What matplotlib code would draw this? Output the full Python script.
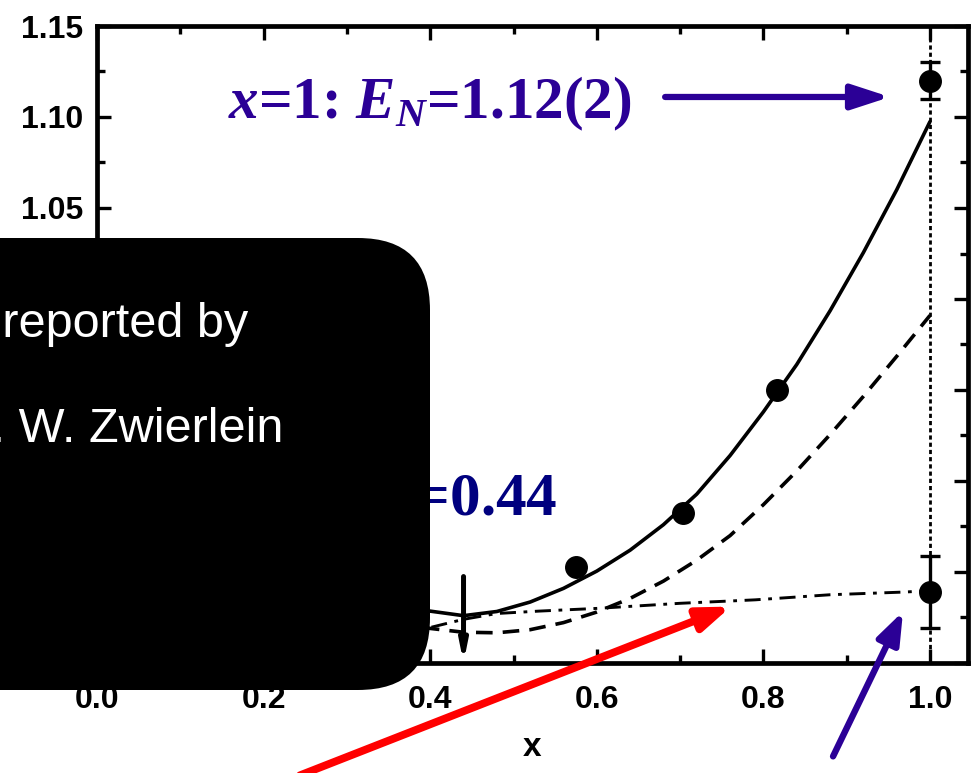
import matplotlib
matplotlib.use("Agg")
import matplotlib.pyplot as plt
from matplotlib.patches import FancyBboxPatch
from matplotlib.ticker import MultipleLocator, FormatStrFormatter

# Measured energies along the curve
x_meas = [0.575, 0.703, 0.816]
E_meas = [0.853, 0.8825, 0.950]

# End points at x = 1 with their error bars
x_end = [1.0, 1.0]
E_end = [1.12, 0.839]
E_end_err = [0.01, 0.02]

# Theory curves
x_solid = [0.36, 0.40, 0.44, 0.48, 0.52, 0.56, 0.60, 0.64, 0.68, 0.72, 0.76, 0.80, 0.84, 0.88, 0.92, 0.96, 1.00]
E_solid = [0.8315, 0.8285, 0.826, 0.8283, 0.8335, 0.841, 0.8505, 0.862, 0.876, 0.8928, 0.914, 0.938,
           0.964, 0.9935, 1.0255, 1.060, 1.0975]

x_dashed = [0.36, 0.40, 0.44, 0.48, 0.52, 0.56, 0.60, 0.64, 0.68, 0.72, 0.76, 0.80, 0.84, 0.88, 0.92, 0.96, 1.00]
E_dashed = [0.8231, 0.819, 0.8169, 0.8166, 0.8183, 0.8222, 0.828, 0.8355, 0.845, 0.8565, 0.870, 0.887,
            0.9055, 0.9255, 0.9465, 0.9685, 0.991]

x_dashdot = [0.36, 0.40, 0.44, 0.48, 0.53, 0.60, 0.70, 0.79, 0.88, 0.97, 0.99]
E_dashdot = [0.8165, 0.8195, 0.824, 0.8272, 0.8285, 0.830, 0.8328, 0.8347, 0.8375, 0.839, 0.8395]

x_crit = 0.44

xticks = [0.0, 0.2, 0.4, 0.6, 0.8, 1.0]
yticks = [0.80, 0.85, 0.90, 0.95, 1.00, 1.05, 1.10, 1.15]

PURPLE = "#2b0096"
NAVY = "#00007f"
RED = "#ff0000"

plt.rcParams["font.family"] = ["Liberation Sans", "DejaVu Sans"]
plt.rcParams["font.weight"] = "bold"
plt.rcParams["mathtext.fontset"] = "custom"
plt.rcParams["mathtext.rm"] = "Liberation Serif:bold"
plt.rcParams["mathtext.it"] = "Liberation Serif:italic:bold"
plt.rcParams["mathtext.bf"] = "Liberation Serif:bold"

W, H = 976, 773
fig = plt.figure(figsize=(W / 100, H / 100), dpi=100)
fig.patch.set_facecolor("white")
ax = fig.add_axes([97 / W, 110 / H, 871 / W, 637 / H])

ax.set_xlim(0.0, 1.0456)
ax.set_ylim(0.80, 1.15)

# curves
ax.plot(x_solid, E_solid, color="black", lw=2.6, solid_joinstyle="round",
        solid_capstyle="round", zorder=3)
ax.plot(x_dashed, E_dashed, color="black", lw=2.6, linestyle=(0, (4.6, 2.8)),
        dash_joinstyle="round", zorder=3)
ax.plot(x_dashdot, E_dashdot, color="black", lw=2.1, linestyle=(0, (5.5, 2.6, 1.3, 2.6)), zorder=3)

# vertical dotted line at x = 1
ax.axvline(1.0, color="black", lw=2.0, linestyle=(0, (1.5, 1.1)), zorder=2)

# data points
ax.plot(x_meas, E_meas, "o", color="black", ms=15.5, zorder=5)
ax.errorbar(x_end, E_end, yerr=E_end_err, fmt="o", color="black", ms=15.5,
            elinewidth=2.4, capsize=7, capthick=2.4, zorder=5)

# arrow marking the critical x
ax.annotate("", xy=(x_crit, 0.800), xytext=(x_crit, 0.8475),
            arrowprops=dict(arrowstyle="-|>,head_length=1.1,head_width=0.22",
                            color="black", lw=3.6, shrinkA=0, shrinkB=0,
                            capstyle="round"),
            zorder=4)

# ticks and spines
ax.set_xticks(xticks)
ax.set_yticks(yticks)
ax.xaxis.set_minor_locator(MultipleLocator(0.1))
ax.yaxis.set_minor_locator(MultipleLocator(0.025))
ax.xaxis.set_major_formatter(FormatStrFormatter("%.1f"))
ax.yaxis.set_major_formatter(FormatStrFormatter("%.2f"))
ax.tick_params(which="both", direction="in", top=True, right=True, width=2.4, color="black")
ax.tick_params(which="major", length=10, labelsize=23)
ax.tick_params(which="minor", length=5.5)
ax.tick_params(axis="x", which="major", pad=16)
ax.tick_params(axis="y", which="major", pad=10)
for lab in ax.get_xticklabels() + ax.get_yticklabels():
    lab.set_fontweight("bold")
for sp in ax.spines.values():
    sp.set_linewidth(3.4)

ax.set_xlabel("x", fontsize=24, fontweight="bold", labelpad=12)

# annotations
fig.text(228 / W, 1 - 118 / H, "$x$=1: $E_N$=1.12(2)", family="Liberation Serif",
         weight="bold", size=42.5, color=PURPLE, ha="left", va="baseline", zorder=3)
ax.annotate("", xy=(0.952, 1.111), xytext=(0.682, 1.111),
            arrowprops=dict(arrowstyle="-|>,head_length=2.3,head_width=0.75",
                            color=PURPLE, lw=4.5, shrinkA=0, shrinkB=0))

fig.text(557 / W, 1 - 515 / H, "$x_c$=0.44", family="Liberation Serif",
         weight="bold", size=44, color=NAVY, ha="right", va="baseline", zorder=3)

ax.annotate("", xy=(0.761, 0.831), xytext=(0.2437, 0.7383), annotation_clip=False,
            arrowprops=dict(arrowstyle="-|>,head_length=1.9,head_width=0.7",
                            color=RED, lw=5.6, shrinkA=0, shrinkB=0))
ax.annotate("", xy=(0.9676, 0.8283), xytext=(0.8836, 0.7487), annotation_clip=False,
            arrowprops=dict(arrowstyle="-|>,head_length=1.9,head_width=0.7",
                            color=PURPLE, lw=4.6, shrinkA=0, shrinkB=0))

# overlay box with credit text
box = FancyBboxPatch((-1.0, (H - 690) / 100), 5.30, 4.52,
                     boxstyle="round,pad=0,rounding_size=0.72",
                     transform=fig.dpi_scale_trans, facecolor="black",
                     edgecolor="none", zorder=10)
fig.add_artist(box)
fig.text(248 / W, 1 - 337 / H, "Data reported by", color="white", size=35,
         weight="normal", family="Liberation Sans", ha="right", va="baseline", zorder=11)
fig.text(283 / W, 1 - 442 / H, "M. W. Zwierlein", color="white", size=35,
         weight="normal", family="Liberation Sans", ha="right", va="baseline", zorder=11)

fig.savefig("out.png", dpi=100, facecolor="white")
